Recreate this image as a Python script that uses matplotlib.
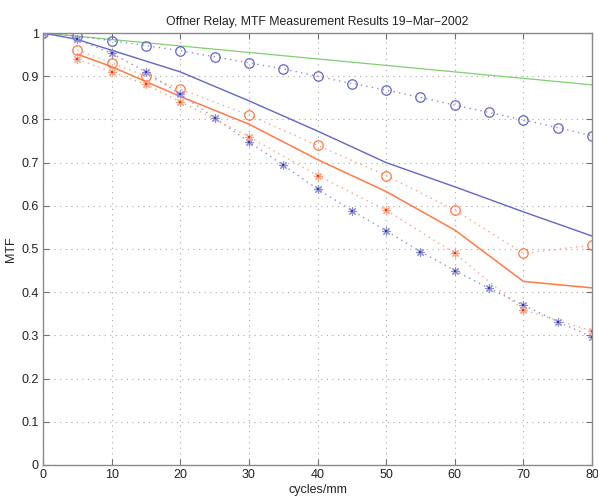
import matplotlib.pyplot as plt
import numpy as np

# ─────────────────────────────────────────────────────────────────────────────
# Measured / modelled MTF values read off the 19-Mar-2002 plot

freq_model = [0, 10, 20, 30, 40, 50, 60, 70, 80]
mtf_diffraction = [1.0, 0.985, 0.97, 0.955, 0.94, 0.925, 0.91, 0.895, 0.88]

freq_design = [0, 5, 10, 20, 30, 40, 50, 60, 70, 80]
mtf_design = [1.0, 0.985, 0.96, 0.91, 0.843, 0.773, 0.70, 0.644, 0.586, 0.53]

freq_fine = [0, 5, 10, 15, 20, 25, 30, 35, 40, 45, 50, 55, 60, 65, 70, 75, 80]
mtf_blue_circ = [1.0, 0.993, 0.982, 0.971, 0.959, 0.945, 0.931, 0.917, 0.90,
                 0.883, 0.868, 0.851, 0.833, 0.816, 0.799, 0.781, 0.762]
mtf_blue_star = [1.0, 0.985, 0.953, 0.91, 0.858, 0.804, 0.748, 0.694, 0.639,
                 0.589, 0.542, 0.494, 0.45, 0.409, 0.37, 0.332, 0.296]

freq_orange = [5, 10, 15, 20, 30, 40, 50, 60, 70, 80]
mtf_orange_circ = [0.961, 0.931, 0.90, 0.87, 0.81, 0.74, 0.67, 0.59, 0.49, 0.509]
mtf_orange_star = [0.939, 0.91, 0.881, 0.841, 0.76, 0.67, 0.59, 0.49, 0.359, 0.31]

freq_orange_fit = [5, 10, 20, 30, 40, 50, 60, 70, 80]
mtf_orange_fit = [0.951, 0.922, 0.853, 0.789, 0.707, 0.633, 0.544, 0.425, 0.41]

# ─────────────────────────────────────────────────────────────────────────────
blue = "#6464c8"
blue_light = "#8c8cd8"
blue_dark = "#3a3aa0"
orange = "#ff7a45"
orange_light = "#ffa080"
red = "#e8321c"
green = "#80d070"

plt.rcParams["font.family"] = ["Liberation Sans", "DejaVu Sans"]

fig = plt.figure(figsize=(5.98, 4.97), dpi=100)
ax = fig.add_axes([0.072, 0.0644, 0.918, 0.8692])

star = (8, 2, 0)

ax.plot(freq_model, mtf_diffraction, "-", color=green, lw=0.9)
ax.plot(freq_design, mtf_design, "-", color=blue, lw=1.0)
ax.plot(freq_orange_fit, mtf_orange_fit, "-", color=orange, lw=1.1)

dots = (0, (1, 3))
ax.plot(freq_fine, mtf_blue_circ, ls=dots, color=blue_light, lw=1.0)
ax.plot(freq_fine, mtf_blue_star, ls=dots, color=blue_light, lw=1.0)
ax.plot(freq_orange, mtf_orange_circ, ls=dots, color=orange_light, lw=1.0)
ax.plot(freq_orange, mtf_orange_star, ls=dots, color=orange_light, lw=1.0)

ax.plot(freq_fine, mtf_blue_circ, ls="none", marker="o", ms=6.8,
        mfc="none", mec=blue, mew=0.9)
ax.plot(freq_orange, mtf_orange_circ, ls="none", marker="o", ms=6.8,
        mfc="none", mec=orange, mew=0.9)
ax.plot(freq_fine, mtf_blue_star, ls="none", marker=star, ms=6,
        mec=blue_light, mew=0.8)
ax.plot(freq_orange, mtf_orange_star, ls="none", marker=star, ms=6,
        mec=orange_light, mew=0.8)

# darker centres on the asterisks
ax.plot(freq_fine, mtf_blue_star, ls="none", marker="s", ms=2.0,
        color=blue_dark, mew=0)
ax.plot(freq_orange, mtf_orange_star, ls="none", marker="s", ms=2.0,
        color=red, mew=0)

ax.set_xlim(0, 80)
ax.set_ylim(0, 1)
ax.set_xticks(np.arange(0, 81, 10))
ax.set_yticks(np.arange(0, 1.01, 0.1))
ax.set_yticklabels(["0", "0.1", "0.2", "0.3", "0.4", "0.5", "0.6", "0.7",
                    "0.8", "0.9", "1"])

ax.grid(True, linestyle=(0, (1, 4)), color="#a8a8a8", lw=0.8)
ax.tick_params(direction="in", top=True, right=True, length=4,
               color="#707070", labelsize=9, pad=3, labelcolor="#222222")
for sp in ax.spines.values():
    sp.set_color("#8a8a8a")
    sp.set_linewidth(1.0)

ax.set_title("Offner Relay, MTF Measurement Results 19\u2212Mar\u22122002",
             fontsize=8.8, pad=6, color="#222222")
ax.set_xlabel("cycles/mm", fontsize=9, labelpad=2, color="#222222")
ax.set_ylabel("MTF", fontsize=9, labelpad=3, color="#222222")

fig.savefig("out.png", dpi=100)
